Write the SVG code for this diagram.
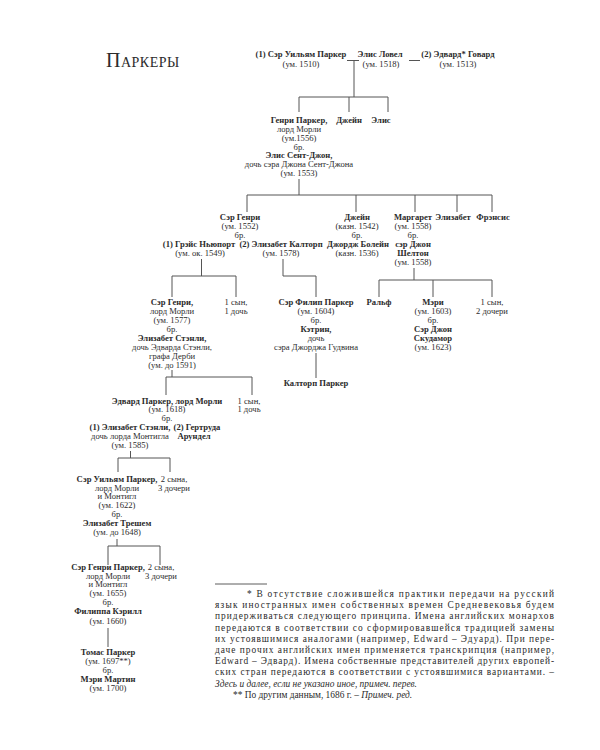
<svg xmlns="http://www.w3.org/2000/svg" width="600" height="750" viewBox="0 0 600 750">
<style>
text{font-family:"Liberation Serif","DejaVu Serif",serif;fill:#2b2b2b;font-size:8.6px;text-anchor:middle}
.b{font-weight:bold}
.t{font-size:20px;text-anchor:start;font-variant:small-caps;letter-spacing:0.5px}
.fn{font-size:9.4px;text-anchor:start}
.i{font-style:italic}
#connectors line,#connectors polyline{stroke:#555;stroke-width:1;fill:none}
</style>
<rect width="600" height="750" fill="#fff"/>
<text class="t" x="106" y="67">Паркеры</text>

<g id="connectors">
<line x1="347" y1="60.5" x2="359" y2="60.5"/>
<line x1="354" y1="60.5" x2="354" y2="97"/>
<line x1="409" y1="60.5" x2="420" y2="60.5"/>
<line x1="299" y1="97" x2="388" y2="97"/>
<line x1="299" y1="97" x2="299" y2="112"/>
<line x1="349" y1="97" x2="349" y2="112"/>
<line x1="388" y1="97" x2="388" y2="112"/>
<line x1="299" y1="179" x2="299" y2="195"/>
<line x1="247" y1="195" x2="492" y2="195"/>
<line x1="247" y1="195" x2="247" y2="212"/>
<line x1="356" y1="195" x2="356" y2="212"/>
<line x1="415" y1="195" x2="415" y2="212"/>
<line x1="457" y1="195" x2="457" y2="212"/>
<line x1="492" y1="195" x2="492" y2="212"/>
<line x1="201.5" y1="259" x2="201.5" y2="276"/>
<line x1="172" y1="276" x2="236" y2="276"/>
<line x1="172" y1="276" x2="172" y2="297"/>
<line x1="236" y1="276" x2="236" y2="297"/>
<polyline points="283,259 283,276 316,276 316,297"/>
<line x1="414" y1="268" x2="414" y2="280"/>
<line x1="379" y1="280" x2="492" y2="280"/>
<line x1="379" y1="280" x2="379" y2="297"/>
<line x1="433" y1="280" x2="433" y2="297"/>
<line x1="492" y1="280" x2="492" y2="297"/>
<line x1="316" y1="353" x2="316" y2="378"/>
<line x1="172" y1="370" x2="172" y2="377"/>
<line x1="166" y1="377" x2="252" y2="377"/>
<line x1="166" y1="377" x2="166" y2="395"/>
<line x1="252" y1="377" x2="252" y2="395"/>
<line x1="130.5" y1="451" x2="130.5" y2="458"/>
<line x1="118" y1="458" x2="170" y2="458"/>
<line x1="118" y1="458" x2="118" y2="472"/>
<line x1="170" y1="458" x2="170" y2="472"/>
<line x1="117" y1="539" x2="117" y2="546"/>
<line x1="108" y1="546" x2="160" y2="546"/>
<line x1="108" y1="546" x2="108" y2="565"/>
<line x1="160" y1="546" x2="160" y2="565"/>
<line x1="108" y1="628" x2="108" y2="647"/>
</g>

<g id="william">
<text class="b" x="301" y="57">(1) Сэр Уильям Паркер</text>
<text x="301" y="67">(ум. 1510)</text>
</g>
<g id="alice-lovel">
<text class="b" x="380" y="57">Элис Ловел</text>
<text x="381" y="67">(ум. 1518)</text>
</g>
<g id="edward-howard">
<text class="b" x="458" y="57">(2) Эдвард* Говард</text>
<text x="458" y="67">(ум. 1513)</text>
</g>

<g id="henry1">
<text class="b" x="299" y="123">Генри Паркер,</text>
<text x="299" y="132">лорд Морли</text>
<text x="299" y="141">(ум.1556)</text>
<text x="299" y="149.5">бр.</text>
<text class="b" x="299" y="158">Элис Сент-Джон,</text>
<text x="299" y="167">дочь сэра Джона Сент-Джона</text>
<text x="299" y="176">(ум. 1553)</text>
</g>
<g id="jane1"><text class="b" x="349" y="123">Джейн</text></g>
<g id="alice1"><text class="b" x="381" y="123">Элис</text></g>

<g id="henry2">
<text class="b" x="240" y="220">Сэр Генри</text>
<text x="240" y="229">(ум. 1552)</text>
<text x="240" y="238">бр.</text>
</g>
<g id="grace">
<text class="b" x="199" y="247">(1) Грэйс Ньюпорт</text>
<text x="200" y="256">(ум. ок. 1549)</text>
</g>
<g id="elizabeth-calthorp">
<text class="b" x="281" y="247">(2) Элизабет Калторп</text>
<text x="281" y="256">(ум. 1578)</text>
</g>
<g id="jane2">
<text class="b" x="357" y="220">Джейн</text>
<text x="357" y="229">(казн. 1542)</text>
<text x="357" y="238">бр.</text>
<text class="b" x="358" y="247">Джордж Болейн</text>
<text x="357" y="256">(казн. 1536)</text>
</g>
<g id="margaret">
<text class="b" x="413" y="220">Маргарет</text>
<text x="413" y="229">(ум. 1558)</text>
<text x="413" y="238">бр.</text>
<text class="b" x="413" y="247">сэр Джон</text>
<text class="b" x="413" y="256">Шелтон</text>
<text x="413" y="265">(ум. 1558)</text>
</g>
<g id="elizabeth2"><text class="b" x="453" y="220">Элизабет</text></g>
<g id="francis"><text class="b" x="493" y="220">Фрэнсис</text></g>

<g id="henry3">
<text class="b" x="172" y="305">Сэр Генри,</text>
<text x="172" y="314">лорд Морли</text>
<text x="172" y="323">(ум. 1577)</text>
<text x="172" y="332">бр.</text>
<text class="b" x="172" y="340.5">Элизабет Стэнли,</text>
<text x="172" y="349.5">дочь Эдварда Стэнли,</text>
<text x="172" y="358.5">графа Дерби</text>
<text x="172" y="367.5">(ум. до 1591)</text>
</g>
<g id="kids3"><text x="236" y="305">1 сын,</text><text x="236" y="314">1 дочь</text></g>
<g id="philip">
<text class="b" x="316" y="305">Сэр Филип Паркер</text>
<text x="316" y="314">(ум. 1604)</text>
<text x="316" y="323">бр.</text>
<text class="b" x="316" y="332">Кэтрин,</text>
<text x="316" y="340.5">дочь</text>
<text x="316" y="349.5">сэра Джорджа Гудвина</text>
</g>
<g id="calthorp"><text class="b" x="316" y="386">Калторп Паркер</text></g>
<g id="ralph"><text class="b" x="379" y="305">Ральф</text></g>
<g id="mary1">
<text class="b" x="433" y="305">Мэри</text>
<text x="433" y="314">(ум. 1603)</text>
<text x="433" y="323">бр.</text>
<text class="b" x="433" y="332">Сэр Джон</text>
<text class="b" x="433" y="340.5">Скудамор</text>
<text x="433" y="349.5">(ум. 1623)</text>
</g>
<g id="kids-m"><text x="492" y="305">1 сын,</text><text x="492" y="314">2 дочери</text></g>

<g id="edward">
<text class="b" x="167" y="403.5">Эдвард Паркер, лорд Морли</text>
<text x="167" y="412">(ум. 1618)</text>
<text x="167" y="420.5">бр.</text>
</g>
<g id="kids4"><text x="249" y="403.5">1 сын,</text><text x="249" y="412">1 дочь</text></g>
<g id="elizabeth-stanley2">
<text class="b" x="130" y="430">(1) Элизабет Стэнли,</text>
<text x="130" y="438.5">дочь лорда Монтигла</text>
<text x="130" y="447.5">(ум. 1585)</text>
</g>
<g id="gertrude">
<text class="b" x="197" y="430">(2) Гертруда</text>
<text class="b" x="194" y="438.5">Арундел</text>
</g>

<g id="william2">
<text class="b" x="117" y="482">Сэр Уильям Паркер,</text>
<text x="117" y="490.5">лорд Морли</text>
<text x="117" y="499">и Монтигл</text>
<text x="117" y="508">(ум. 1622)</text>
<text x="117" y="517">бр.</text>
<text class="b" x="117" y="526">Элизабет Трешем</text>
<text x="117" y="535">(ум. до 1648)</text>
</g>
<g id="kids5"><text x="174" y="482">2 сына,</text><text x="174" y="490.5">3 дочери</text></g>

<g id="henry4">
<text class="b" x="108" y="570">Сэр Генри Паркер,</text>
<text x="108" y="578.5">лорд Морли</text>
<text x="108" y="587">и Монтигл</text>
<text x="108" y="596">(ум. 1655)</text>
<text x="108" y="605">бр.</text>
<text class="b" x="108" y="614">Филиппа Кэрилл</text>
<text x="108" y="623.5">(ум. 1660)</text>
</g>
<g id="kids6"><text x="161" y="570">2 сына,</text><text x="161" y="578.5">3 дочери</text></g>

<g id="thomas">
<text class="b" x="108" y="655">Томас Паркер</text>
<text x="108" y="664">(ум. 1697**)</text>
<text x="108" y="673">бр.</text>
<text class="b" x="108" y="681.5">Мэри Мартин</text>
<text x="108" y="690.5">(ум. 1700)</text>
</g>

<g id="footnote">
<line x1="215" y1="584" x2="267" y2="584" stroke="#333" stroke-width="0.8"/>
<text class="fn" x="247" y="597" textLength="307" lengthAdjust="spacing">* В отсутствие сложившейся практики передачи на русский</text>
<text class="fn" x="215" y="608.2" textLength="339" lengthAdjust="spacing">язык иностранных имен собственных времен Средневековья будем</text>
<text class="fn" x="215" y="619.4" textLength="339" lengthAdjust="spacing">придерживаться следующего принципа. Имена английских монархов</text>
<text class="fn" x="215" y="630.6" textLength="339" lengthAdjust="spacing">передаются в соответствии со сформировавшейся традицией замены</text>
<text class="fn" x="215" y="641.8" textLength="339" lengthAdjust="spacing">их устоявшимися аналогами (например, Edward – Эдуард). При пере-</text>
<text class="fn" x="215" y="653" textLength="339" lengthAdjust="spacing">даче прочих английских имен применяется транскрипция (например,</text>
<text class="fn" x="215" y="664.2" textLength="339" lengthAdjust="spacing">Edward – Эдвард). Имена собственные представителей других европей-</text>
<text class="fn" x="215" y="675.4" textLength="339" lengthAdjust="spacing">ских стран передаются в соответствии с устоявшимися вариантами. –</text>
<text class="fn i" x="215" y="686.6">Здесь и далее, если не указано иное, примеч. перев.</text>
<text class="fn" x="233" y="697.8">** По другим данным, 1686 г. – <tspan class="i">Примеч. ред.</tspan></text>
</g>
</svg>
